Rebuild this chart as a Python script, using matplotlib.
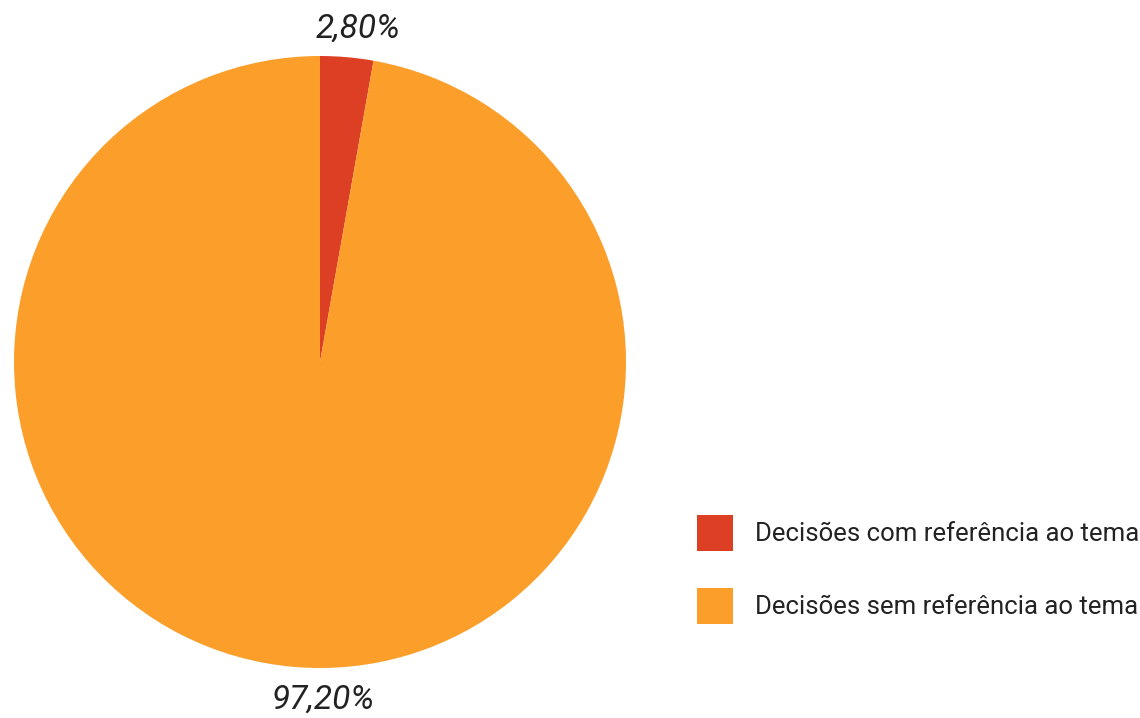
import numpy as np
import matplotlib
matplotlib.use("Agg")
import matplotlib.pyplot as plt

# data
categories = ["Decisões com referência ao tema", "Decisões sem referência ao tema"]
values = [2.80, 97.20]
value_labels = ["2,80%", "97,20%"]
colors = ["#DC3F24", "#FB9E2A"]

plt.rcParams['font.family'] = ['Roboto', 'DejaVu Sans']
text_color = "#222222"

fig = plt.figure(figsize=(11.4, 7.18), dpi=100)
ax = fig.add_axes([0, 0, 1, 1])

cx, cy, r = 320, 356, 306
wedges, _ = ax.pie(values, colors=colors, startangle=90, counterclock=False,
                   center=(cx, cy), radius=r, frame=True,
                   wedgeprops=dict(linewidth=0))
ax.set_xlim(0, 1140)
ax.set_ylim(0, 718)
ax.set_aspect("equal")
ax.axis("off")

# value labels outside each slice (big slice label sits at the bottom)
label_angles = [None, -89.5]
for w, lab, ang, dist in zip(wedges, value_labels, label_angles, [1.095, 1.105]):
    if ang is None:
        ang = (w.theta1 + w.theta2) / 2 - 1.5
    a = np.deg2rad(ang)
    x = cx + dist * r * np.cos(a)
    y = cy + dist * r * np.sin(a)
    ax.text(x, y, lab, ha="center", va="center", fontsize=24,
            style="italic", color=text_color)

leg = ax.legend(wedges, categories, loc="upper left",
                bbox_to_anchor=(697 / 1140, 1 - 515 / 718), frameon=False,
                prop=dict(size=18.5),
                handlelength=1.40, handleheight=1.78,
                handletextpad=0.86, labelspacing=1.44, borderpad=0,
                borderaxespad=0)
for t in leg.get_texts():
    t.set_color(text_color)

fig.savefig("out.png", dpi=100)
